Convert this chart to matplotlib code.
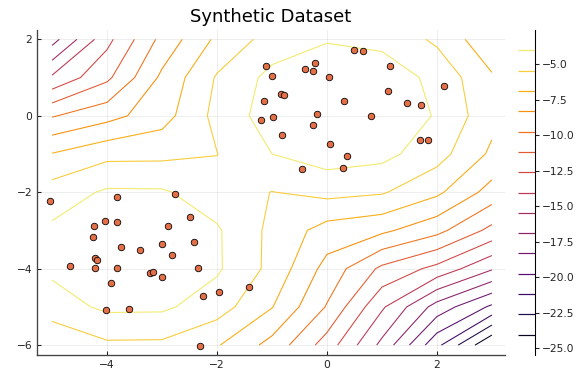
import numpy as np
import matplotlib
matplotlib.use("Agg")
import matplotlib.pyplot as plt

# log density of the fitted mixture on the integer grid (rows: y=-6..2, cols: x=-5..3)
grid_x = [-5, -4, -3, -2, -1, 0, 1, 2, 3]
grid_y = [-6, -5, -4, -3, -2, -1, 0, 1, 2]
logpdf = [
    [-6.66, -5.69, -5.72, -6.75, -8.78, -11.81, -15.84, -20.80, -25.47],
    [-4.69, -3.72, -3.75, -4.78, -6.81, -9.84, -13.80, -17.47, -20.01],
    [-3.72, -2.75, -2.78, -3.81, -5.84, -8.80, -11.47, -13.01, -15.30],
    [-3.75, -2.78, -2.81, -3.84, -5.80, -7.47, -8.01, -9.30, -11.58],
    [-4.78, -3.81, -3.84, -4.80, -5.47, -5.01, -5.30, -6.58, -8.86],
    [-6.81, -5.84, -5.80, -5.47, -4.01, -3.30, -3.58, -4.86, -7.14],
    [-9.84, -8.80, -7.47, -5.01, -3.30, -2.58, -2.86, -4.14, -6.42],
    [-13.80, -11.47, -8.01, -5.30, -3.58, -2.86, -3.14, -4.42, -6.70],
    [-17.47, -13.01, -9.30, -6.58, -4.86, -4.14, -4.42, -5.70, -7.98],
]

# sampled points
pts_x = [-1.115, -1.005, -0.395, -0.249, -0.213, 0.031, 0.485, 0.649, 1.14, 2.133,
         -0.842, -0.776, -1.145, 0.309, 1.109, 1.449, 1.715, -1.2, -0.987, -0.187,
         -0.26, 0.805, -0.813, 0.06, 0.369, -0.449, 0.291, 1.691, 1.836,
         -5.036, -3.824, -2.764, -4.231, -4.042, -3.818, -2.491, -2.885, -4.249, -3.751,
         -3.4, -3.005, -2.424, -2.813, -4.213, -4.187, -4.673, -4.224, -3.824, -3.218,
         -3.158, -2.995, -2.34, -3.927, -1.964, -1.424, -2.26, -4.013, -3.6, -2.309]
pts_y = [1.29, 1.047, 1.222, 1.178, 1.387, 1.013, 1.72, 1.694, 1.301, 0.767,
         0.568, 0.542, 0.385, 0.393, 0.647, 0.322, 0.28, -0.113, -0.026, 0.034,
         -0.243, -0.018, -0.516, -0.741, -1.047, -1.387, -1.369, -0.636, -0.636,
         -2.243, -2.128, -2.042, -2.88, -2.741, -2.775, -2.662, -2.88, -3.16, -3.437,
         -3.508, -3.343, -3.298, -3.639, -3.709, -3.77, -3.935, -3.987, -3.987, -4.118,
         -4.092, -4.215, -3.987, -4.38, -4.607, -4.476, -4.712, -5.079, -5.045, -6.021]

Z = np.array(logpdf)
zmin, zmax = Z.min(), Z.max()
levels = np.linspace(zmin, zmax, 17)[1:-1]
cmap = plt.get_cmap("inferno")
norm = plt.Normalize(zmin, zmax)

fig = plt.figure(figsize=(6, 4), dpi=96)
ax = fig.add_axes([0.064, 0.0755, 0.813, 0.846])
ax.contour(grid_x, grid_y, Z, levels=levels, cmap=cmap, norm=norm, linewidths=0.8)
ax.scatter(pts_x, pts_y, s=24, color="#e36f47", edgecolor="black", linewidth=0.6, zorder=3)

ax.set_xlim(-5.277, 3.241)
ax.set_ylim(-6.26, 2.24)
ax.set_xticks([-4, -2, 0, 2])
ax.set_yticks([-6, -4, -2, 0, 2])
ax.grid(True, color="black", alpha=0.1, linewidth=0.5)
ax.set_axisbelow(True)
for s in ["top", "right"]:
    ax.spines[s].set_visible(False)
for s in ["left", "bottom"]:
    ax.spines[s].set_color("#444444")
    ax.spines[s].set_linewidth(1.0)
ax.tick_params(direction="in", length=3, width=0.8, labelsize=8, colors="#222222")
ax.set_title("Synthetic Dataset", fontsize=13.5, pad=6)

# colorbar made of level lines
cax = fig.add_axes([518 / 576, 0.0755, 17 / 576, 0.846])
cax.set_ylim(zmin, zmax)
cax.set_xlim(0, 1)
cax.hlines(levels, 0, 1, colors=cmap(norm(levels)), linewidth=0.9)
for s in ["top", "left", "bottom"]:
    cax.spines[s].set_visible(False)
cax.spines["right"].set_linewidth(0.8)
cax.set_xticks([])
cax.yaxis.tick_right()
cax.set_yticks([-5, -7.5, -10, -12.5, -15, -17.5, -20, -22.5, -25])
cax.set_yticklabels(["\u22125.0", "\u22127.5", "\u221210.0", "\u221212.5", "\u221215.0",
                     "\u221217.5", "\u221220.0", "\u221222.5", "\u221225.0"])
cax.tick_params(direction="out", length=3, width=0.8, labelsize=8, pad=2, colors="#222222")

fig.savefig("out.png")
